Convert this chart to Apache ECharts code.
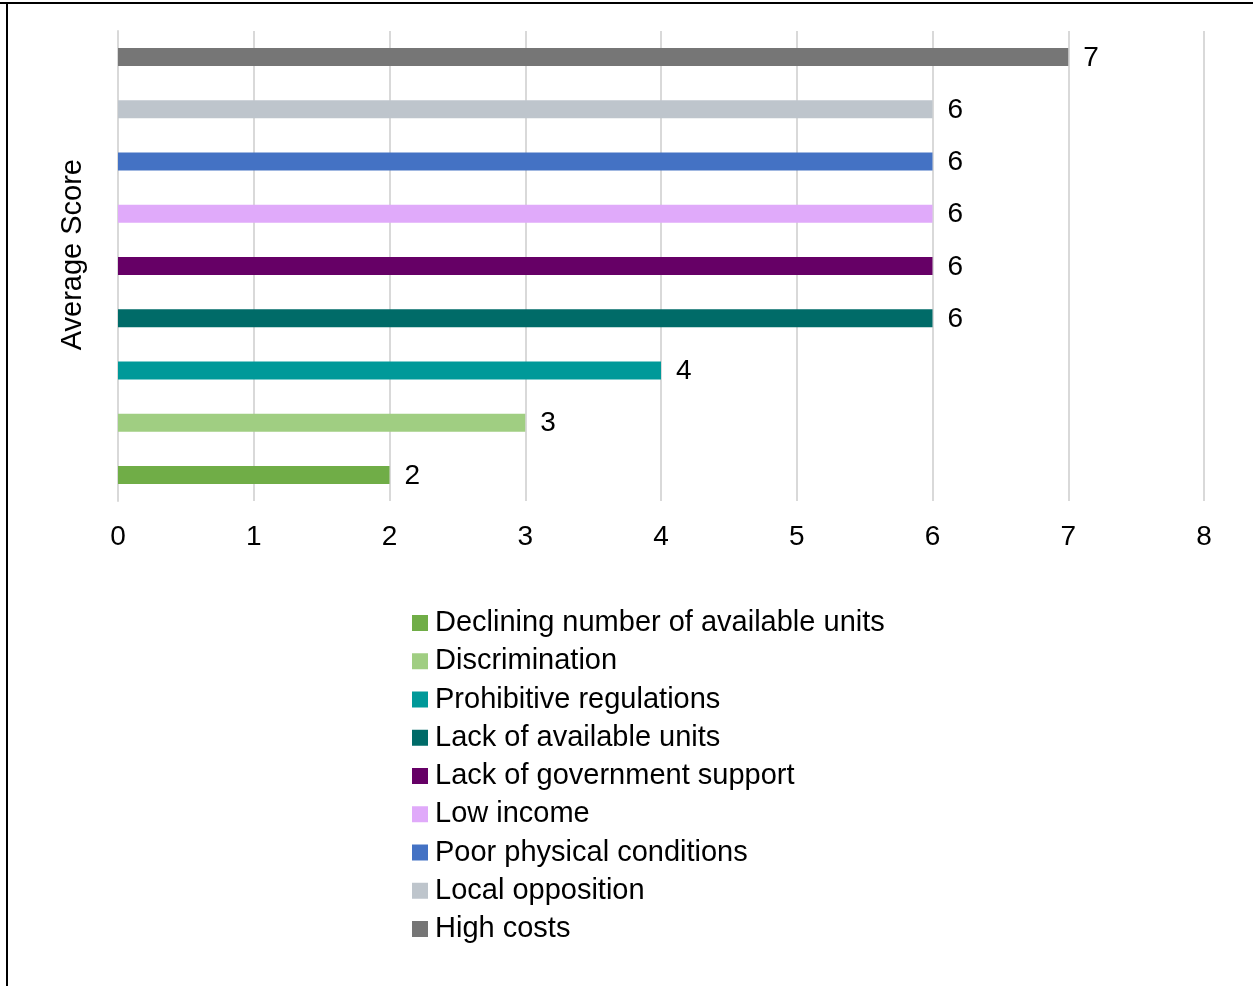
<!DOCTYPE html>
<html>
<head>
<meta charset="utf-8">
<script src="https://cdn.jsdelivr.net/npm/echarts@6/dist/echarts.min.js"></script>
<style>
html,body{margin:0;padding:0;background:#fff;}
#chart{width:1253px;height:986px;}
</style>
</head>
<body>
<div id="chart"></div>
<script>
var categories = [
  "Declining number of available units",
  "Discrimination",
  "Prohibitive regulations",
  "Lack of available units",
  "Lack of government support",
  "Low income",
  "Poor physical conditions",
  "Local opposition",
  "High costs"
];
var values = [2, 3, 4, 6, 6, 6, 6, 6, 7];
var colors = ["#70AD47", "#A0CE82", "#009999", "#006B68", "#660066", "#E0AAFA", "#4472C4", "#BEC5CC", "#767676"];
var xTicks = [0, 1, 2, 3, 4, 5, 6, 7, 8];
var axisTitle = "Average Score";

var FONT = "Liberation Sans, Arial, sans-serif";
var series = categories.map(function (name, i) {
  var d = categories.map(function (_, j) { return j === i ? values[i] : null; });
  return {
    name: name,
    type: "bar",
    stack: "all",
    barWidth: 18,
    data: d,
    itemStyle: { color: colors[i] },
    label: {
      show: true,
      position: "right",
      distance: 15,
      color: "#000",
      fontFamily: FONT,
      fontSize: 28,
      offset: [0, 1],
      formatter: function (p) { return p.value == null ? "" : String(p.value); }
    }
  };
});

var chart = echarts.init(document.getElementById("chart"), null, { renderer: "canvas" });
chart.setOption({
  animation: false,
  backgroundColor: "#fff",
  grid: { left: 118, right: 49, top: 31, height: 470, containLabel: false },
  xAxis: {
    type: "value",
    min: xTicks[0],
    max: xTicks[xTicks.length - 1],
    interval: 1,
    axisLine: { show: false },
    axisTick: { show: false },
    splitLine: { show: true, lineStyle: { color: "#D9D9D9", width: 2 } },
    axisLabel: { color: "#000", fontFamily: FONT, fontSize: 28, margin: 22 }
  },
  yAxis: {
    type: "category",
    data: categories,
    axisLine: { show: true, lineStyle: { color: "#D9D9D9", width: 2 } },
    axisTick: { show: false },
    axisLabel: { show: false }
  },
  legend: {
    orient: "vertical",
    left: 407,
    top: 603,
    itemWidth: 16,
    itemHeight: 16,
    itemGap: 8.25,
    icon: "rect",
    data: categories,
    textStyle: { color: "#000", fontFamily: FONT, fontSize: 29, lineHeight: 30, padding: [0, 0, 0, 2] }
  },
  graphic: [
    { type: "text", left: 58, top: 159, rotation: Math.PI / 2,
      style: { text: axisTitle, fill: "#000", font: "29px " + FONT } },
    { type: "line", shape: { x1: 0, y1: 3, x2: 1253, y2: 3 }, style: { stroke: "#000", lineWidth: 2 } },
    { type: "line", shape: { x1: 7, y1: 3, x2: 7, y2: 986 }, style: { stroke: "#000", lineWidth: 2 } }
  ],
  series: series
});
</script>
</body>
</html>
